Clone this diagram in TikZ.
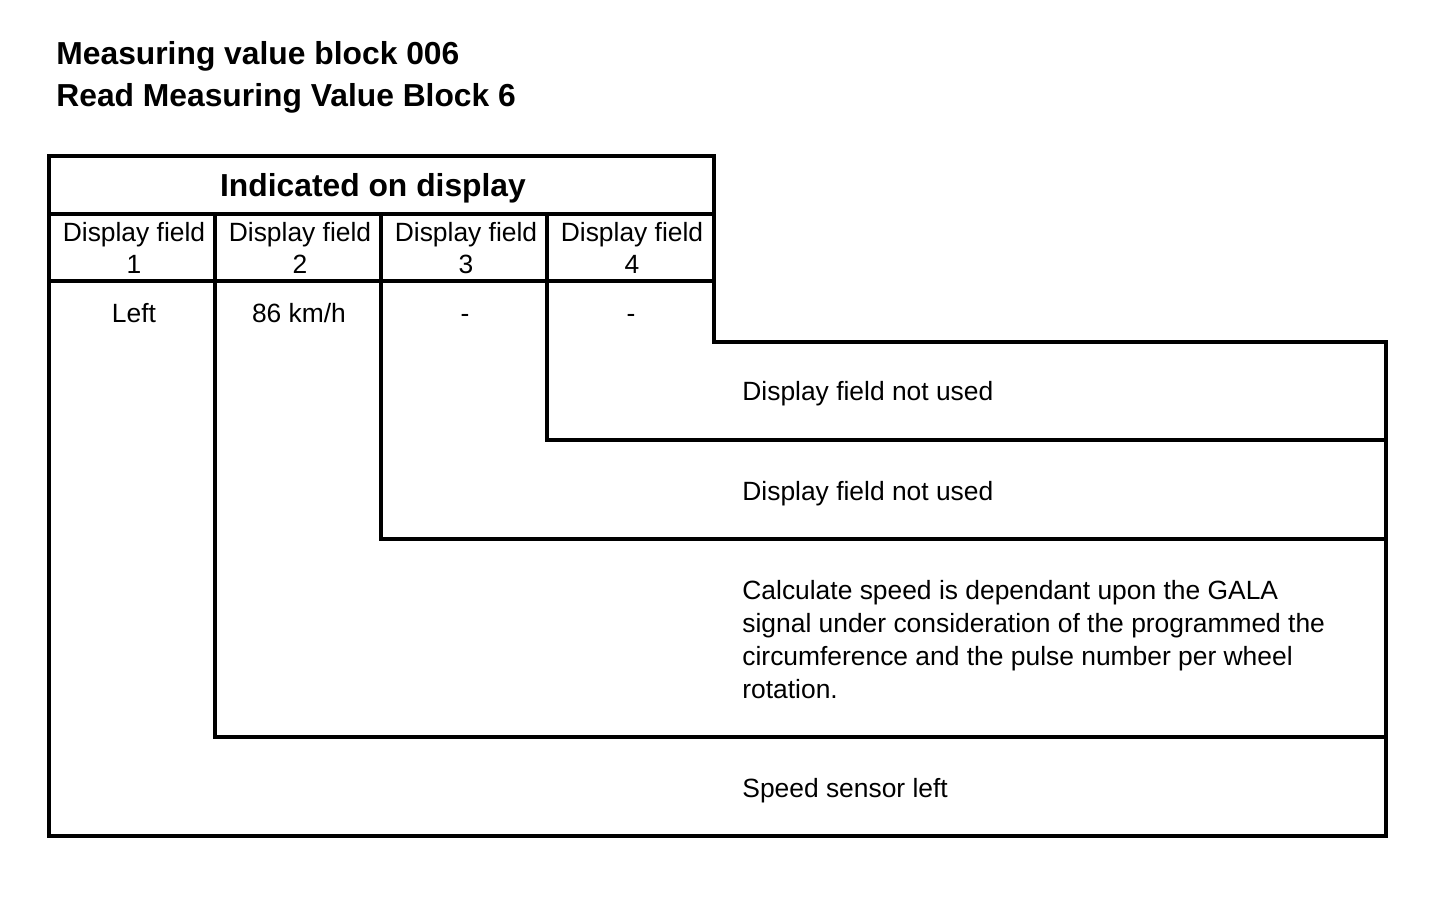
\documentclass[tikz,border=0pt]{standalone}
\usepackage{fontspec}
\setmainfont{Liberation Sans}
\begin{document}
\begin{tikzpicture}[x=0.5pt,y=-0.5pt,
    rule/.style={line width=1.8pt,line cap=rect},
    title/.style={anchor=base west,inner sep=0pt,font=\fontsize{15.9}{21}\selectfont\bfseries},
    field/.style={anchor=base,inner sep=0pt,align=center,font=\fontsize{13.2}{16}\selectfont},
    desc/.style={anchor=base west,inner sep=0pt,align=left,font=\fontsize{13.2}{16.35}\selectfont}]
  \useasboundingbox (0,0) rectangle (1456,912);

  % 1. Ueberschrift
  \node[title] (t1) at (56,64) {Measuring value block 006};
  \node[title] (t2) at (56,106) {Read Measuring Value Block 6};

  % 2. Eckpunkte der Tabelle
  \coordinate (A) at (49,156);
  \coordinate (B) at (714,156);
  \coordinate (C) at (714,342);
  \coordinate (D) at (1386,342);
  \coordinate (E) at (1386,836);
  \coordinate (F) at (49,836);

  % 3. Rahmen und Kopfzeilen
  \draw[rule] (A) -- (B) -- (C) -- (D) -- (E) -- (F) -- cycle;
  \draw[rule] (49,214) -- (714,214);
  \draw[rule] (49,281) -- (714,281);

  % 4. Spalten, die nach rechts abknicken
  \draw[rule] (215,214) -- (215,737) -- (1386,737);
  \draw[rule] (381,214) -- (381,539) -- (1386,539);
  \draw[rule] (547,214) -- (547,440) -- (1386,440);

  % 5. Texte in der Tabelle (base = letzte Zeile)
  \node[field,font=\fontsize{15.9}{19}\selectfont\bfseries] (head) at (373,196) {Indicated on display};
  \node[field] (f1) at (134,273) {Display field\\1};
  \node[field] (f2) at (300,273) {Display field\\2};
  \node[field] (f3) at (466,273) {Display field\\3};
  \node[field] (f4) at (632,273) {Display field\\4};
  \node[field] (v1) at (134,322) {Left};
  \node[field] (v2) at (299,322) {86 km/h};
  \node[field] (v3) at (465,322) {-};
  \node[field] (v4) at (631,322) {-};

  % 6. Beschreibungen
  \node[desc] (d4) at (742,400) {Display field not used};
  \node[desc] (d3) at (742,500) {Display field not used};
  \node[desc] (d2) at (742,698) {Calculate speed is dependant upon the GALA\\signal under consideration of the programmed the\\circumference and the pulse number per wheel\\rotation.};
  \node[desc] (d1) at (742,797) {Speed sensor left};
\end{tikzpicture}
\end{document}
